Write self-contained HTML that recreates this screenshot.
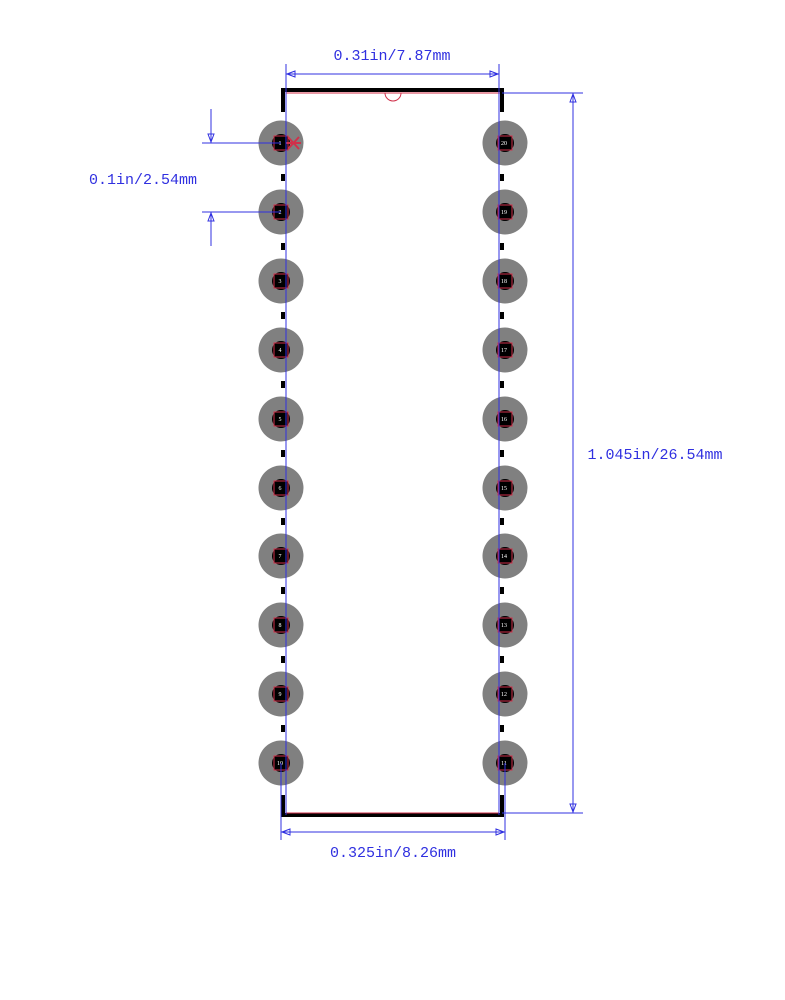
<!DOCTYPE html>
<html><head><meta charset="utf-8"><style>html,body{margin:0;padding:0;background:#fff}svg{display:block}</style></head>
<body>
<svg width="785" height="1000" viewBox="0 0 785 1000" xmlns="http://www.w3.org/2000/svg" font-family="'Liberation Mono', monospace">
<defs>
<g id="pad"><circle r="22.5" fill="#808080"/><circle r="9" fill="#000"/><rect x="-7" y="-7" width="14" height="14" fill="none" stroke="#d0304a" stroke-width="1"/></g>
</defs>
<!-- pads left -->
<g>
<use href="#pad" x="281" y="143"/><use href="#pad" x="281" y="212"/><use href="#pad" x="281" y="281"/><use href="#pad" x="281" y="350"/><use href="#pad" x="281" y="419"/><use href="#pad" x="281" y="488"/><use href="#pad" x="281" y="556"/><use href="#pad" x="281" y="625"/><use href="#pad" x="281" y="694"/><use href="#pad" x="281" y="763"/>
<use href="#pad" x="505" y="143"/><use href="#pad" x="505" y="212"/><use href="#pad" x="505" y="281"/><use href="#pad" x="505" y="350"/><use href="#pad" x="505" y="419"/><use href="#pad" x="505" y="488"/><use href="#pad" x="505" y="556"/><use href="#pad" x="505" y="625"/><use href="#pad" x="505" y="694"/><use href="#pad" x="505" y="763"/>
</g>
<g fill="#fff" font-size="6" text-anchor="middle" font-family="'Liberation Serif', serif">
<text x="280" y="145">1</text><text x="280" y="214">2</text><text x="280" y="283">3</text><text x="280" y="352">4</text><text x="280" y="421">5</text><text x="280" y="490">6</text><text x="280" y="558">7</text><text x="280" y="627">8</text><text x="280" y="696">9</text><text x="280" y="765">10</text>
<text x="504" y="145">20</text><text x="504" y="214">19</text><text x="504" y="283">18</text><text x="504" y="352">17</text><text x="504" y="421">16</text><text x="504" y="490">15</text><text x="504" y="558">14</text><text x="504" y="627">13</text><text x="504" y="696">12</text><text x="504" y="765">11</text>
</g>
<!-- dashes -->
<g fill="#000">
<rect x="281" y="174" width="4" height="7"/><rect x="281" y="243" width="4" height="7"/><rect x="281" y="312" width="4" height="7"/><rect x="281" y="381" width="4" height="7"/><rect x="281" y="450" width="4" height="7"/><rect x="281" y="518" width="4" height="7"/><rect x="281" y="587" width="4" height="7"/><rect x="281" y="656" width="4" height="7"/><rect x="281" y="725" width="4" height="7"/>
<rect x="500" y="174" width="4" height="7"/><rect x="500" y="243" width="4" height="7"/><rect x="500" y="312" width="4" height="7"/><rect x="500" y="381" width="4" height="7"/><rect x="500" y="450" width="4" height="7"/><rect x="500" y="518" width="4" height="7"/><rect x="500" y="587" width="4" height="7"/><rect x="500" y="656" width="4" height="7"/><rect x="500" y="725" width="4" height="7"/>
</g>
<!-- outline -->
<g stroke="#000" stroke-width="4" fill="none">
<polyline points="283,112 283,90 502,90 502,112"/>
<polyline points="283,795 283,815 502,815 502,795"/>
</g>
<g stroke="#d0304a" stroke-width="1" fill="none">
<line x1="286" y1="93" x2="500" y2="93"/>
<path d="M385,93 A8,8 0 0 0 401,93"/>
<polyline points="286,795 286,813 499,813 499,795"/>
<line x1="288" y1="137" x2="299" y2="149" stroke-width="2"/><line x1="299" y1="137" x2="288" y2="149" stroke-width="2"/><line x1="286" y1="143" x2="301" y2="143" stroke-width="2"/>
</g>
<!-- blue dimensions -->
<g stroke="#3030e0" stroke-width="1" fill="none">
<line x1="286" y1="64" x2="286" y2="815"/>
<line x1="499" y1="64" x2="499" y2="815"/>
<line x1="286" y1="74" x2="499" y2="74"/>
<path d="M287,74 l8,-3 v6 z M498,74 l-8,-3 v6 z"/>
<line x1="502" y1="93" x2="583" y2="93"/>
<line x1="502" y1="813" x2="583" y2="813"/>
<line x1="573" y1="93" x2="573" y2="813"/>
<path d="M573,94 l-3,8 h6 z M573,812 l-3,-8 h6 z"/>
<line x1="202" y1="143" x2="281" y2="143"/>
<line x1="202" y1="212" x2="281" y2="212"/>
<line x1="211" y1="109" x2="211" y2="143"/>
<line x1="211" y1="212" x2="211" y2="246"/>
<path d="M211,142 l-3,-8 h6 z M211,213 l-3,8 h6 z"/>
<line x1="281" y1="763" x2="281" y2="840"/>
<line x1="505" y1="763" x2="505" y2="840"/>
<line x1="281" y1="832" x2="505" y2="832"/>
<path d="M282,832 l8,-3 v6 z M504,832 l-8,-3 v6 z"/>
</g>
<g fill="#3030e0" font-size="15">
<text x="392" y="60" text-anchor="middle">0.31in/7.87mm</text>
<text x="655" y="459" text-anchor="middle">1.045in/26.54mm</text>
<text x="143" y="184" text-anchor="middle">0.1in/2.54mm</text>
<text x="393" y="857" text-anchor="middle">0.325in/8.26mm</text>
</g>
</svg>
</body></html>
